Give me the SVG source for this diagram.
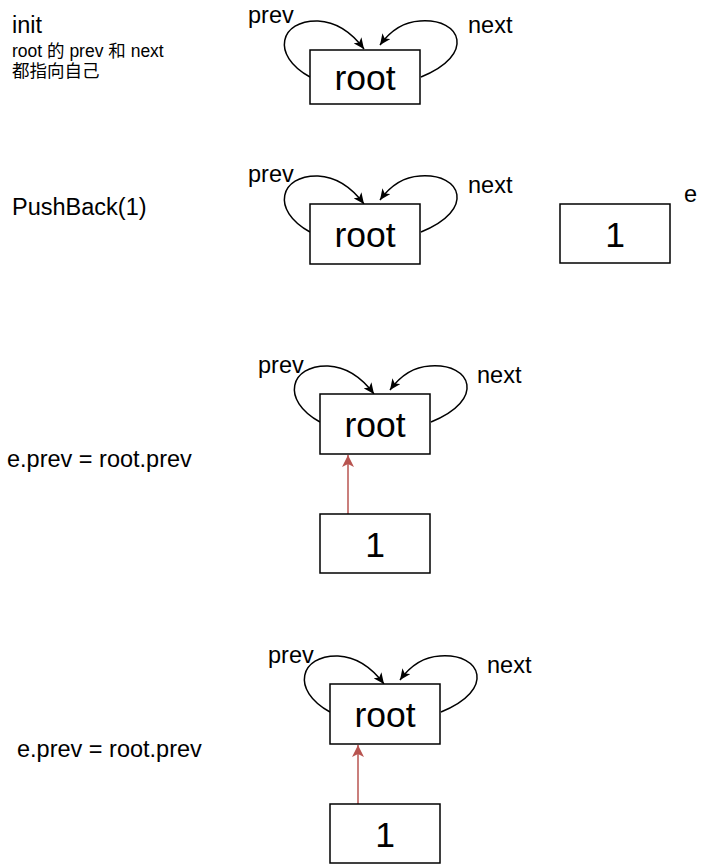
<svg xmlns="http://www.w3.org/2000/svg" width="711" height="865" viewBox="0 0 711 865">
<style>
  .box { fill: #ffffff; stroke: #000000; stroke-width: 1.5; }
  .big { font-family: "Liberation Sans", Arial, sans-serif; font-size: 35.5px; fill: #000; text-anchor: middle; }
  .lbl { font-family: "Liberation Sans", Arial, sans-serif; font-size: 23.5px; fill: #000; }
  .cjk { font-family: "Liberation Sans", "Noto Sans CJK SC", sans-serif; font-size: 17.5px; fill: #000; }
  .loop { fill: none; stroke: #000; stroke-width: 1.5; marker-end: url(#blk); }
  .red { fill: none; stroke: #b85450; stroke-width: 1.5; marker-end: url(#redArr); }
</style>
<defs>
  <marker id="blk" markerUnits="userSpaceOnUse" markerWidth="12" markerHeight="10" viewBox="0 0 12 10" refX="11" refY="5" orient="auto">
    <path d="M0,0 L11,5 L0,10 L3,5 z" fill="#000"/>
  </marker>
  <marker id="redArr" markerUnits="userSpaceOnUse" markerWidth="13" markerHeight="12" viewBox="0 0 13 12" refX="12" refY="6" orient="auto">
    <path d="M0,0 L12,6 L0,12 L3,6 z" fill="#b85450"/>
  </marker>
  <g id="loops">
    <path class="loop" d="M310,77 C270,55 280,20 318,21 C340,22 355,37 364,49"/>
    <path class="loop" d="M421,77 C476,55 462,18 420,21 C400,22 388,34 380,45"/>
  </g>
</defs>

<g id="texts">
  <text class="lbl" x="12" y="33">init</text>
  <text class="cjk" x="12" y="57">root 的 prev 和 next</text>
  <text class="cjk" x="12" y="77">都指向自己</text>
  <text class="lbl" x="12" y="215">PushBack(1)</text>
  <text class="lbl" x="7" y="467">e.prev = root.prev</text>
  <text class="lbl" x="17" y="757">e.prev = root.prev</text>
</g>

<g id="connectors">
  <use href="#loops"/>
  <use href="#loops" transform="translate(0,155)"/>
  <use href="#loops" transform="translate(10,345)"/>
  <use href="#loops" transform="translate(20,635)"/>
  <path class="red" d="M348,514 L348,455"/>
  <path class="red" d="M358,804 L358,745"/>
  <text class="lbl" x="248" y="23">prev</text>
  <text class="lbl" x="468" y="33">next</text>
  <text class="lbl" x="248" y="182">prev</text>
  <text class="lbl" x="468" y="193">next</text>
  <text class="lbl" x="258" y="373">prev</text>
  <text class="lbl" x="477" y="383">next</text>
  <text class="lbl" x="268" y="663">prev</text>
  <text class="lbl" x="487" y="673">next</text>
</g>

<g id="root1">
  <rect class="box" x="310" y="50" width="110" height="54"/>
  <text class="big" x="365" y="90">root</text>
</g>
<g id="root2">
  <rect class="box" x="310" y="204" width="110" height="60"/>
  <text class="big" x="365" y="247">root</text>
</g>
<g id="e1">
  <rect class="box" x="560" y="204" width="110" height="59"/>
  <text class="big" x="615" y="247">1</text>
  <text class="lbl" x="684" y="202">e</text>
</g>
<g id="root3">
  <rect class="box" x="320" y="394" width="110" height="60"/>
  <text class="big" x="375" y="437">root</text>
</g>
<g id="e3">
  <rect class="box" x="320" y="514" width="110" height="59"/>
  <text class="big" x="375" y="557">1</text>
</g>
<g id="root4">
  <rect class="box" x="330" y="684" width="110" height="60"/>
  <text class="big" x="385" y="727">root</text>
</g>
<g id="e4">
  <rect class="box" x="330" y="804" width="110" height="59"/>
  <text class="big" x="385" y="847">1</text>
</g>
</svg>
